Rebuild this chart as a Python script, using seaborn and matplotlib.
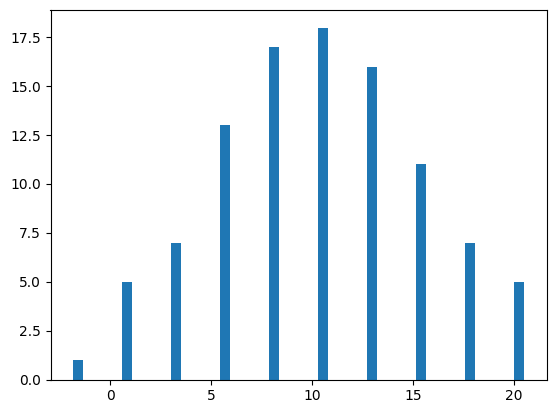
import matplotlib
matplotlib.use("Agg")
import matplotlib.pyplot as plt
import seaborn as sns
import numpy as np

# distinct data values and how many times each occurs
values = [-1.85, 0.83, 3.27, 5.70, 8.13, 10.62, 13.00, 15.43, 17.85, 20.50]
counts = [1, 5, 7, 13, 17, 18, 16, 11, 7, 5]
n_bins = 46

fig = plt.figure(figsize=(5.56, 4.13), dpi=100)
ax = fig.add_axes([50.5 / 556, 33.5 / 413, 496 / 556, 369.5 / 413])

sns.histplot(x=values, weights=counts, bins=n_bins, ax=ax,
             color="#1f77b4", alpha=1.0, linewidth=0, edgecolor="none")
ax.set_xlabel("")
ax.set_ylabel("")
ax.margins(x=0.05, y=0.05)
ax.set_xlim(-1.85 - 0.05 * 22.35, 20.5 + 0.05 * 22.35)
ax.set_ylim(0, max(counts) * 1.05)

fig.savefig("out.png", dpi=100)
